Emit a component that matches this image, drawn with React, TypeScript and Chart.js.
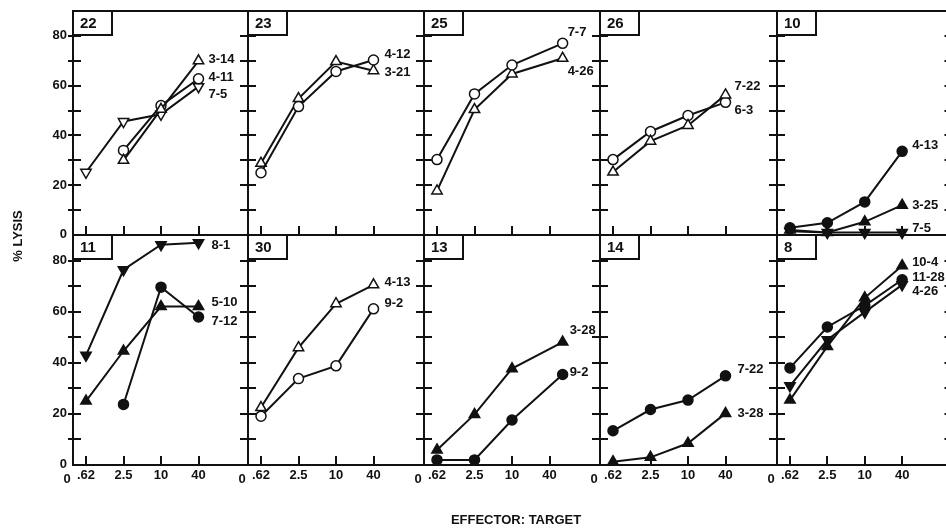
import React, { useEffect, useRef } from "react";
import { Chart, registerables } from "chart.js";

Chart.register(...registerables);

// ---------- data ----------
const ET_RATIOS = [0.625, 2.5, 10, 40];
const ET_RATIOS_LATE = [0.625, 2.5, 10, 65];
const ET_TICK_LABELS = [".62", "2.5", "10", "40"];
const Y_TICK_LABELS = [0, 20, 40, 60, 80];
const Y_MINOR_TICKS = [10, 20, 30, 40, 50, 60, 70, 80];
const PANEL_IDS = ["22", "23", "25", "26", "10", "11", "30", "13", "14", "8"];

// panel 22
const P22_3_14 = [null, 30, 50.5, 70];
const P22_4_11 = [null, 34, 52, 62.8];
const P22_7_5 = [25.2, 45.6, 48.5, 59.6];
// panel 23
const P23_4_12 = [25, 51.6, 65.7, 70.3];
const P23_3_21 = [28.8, 54.8, 69.7, 66];
// panel 25
const P25_7_7 = [30.3, 56.7, 68.3, 77];
const P25_4_26 = [17.7, 50.4, 64.7, 71];
// panel 26
const P26_7_22 = [25.3, 37.7, 44, 56.3];
const P26_6_3 = [30.3, 41.6, 48, 53.3];
// panel 10
const P10_4_13 = [2.9, 4.9, 13.3, 33.6];
const P10_3_25 = [2, 1, 5.3, 12];
const P10_7_5 = [1.5, 1, 1, 1];
// panel 11
const P11_8_1 = [42.9, 76.4, 86.2, 87];
const P11_5_10 = [25, 44.6, 62, 62];
const P11_7_12 = [null, 23.7, 69.6, 57.9];
// panel 30
const P30_4_13 = [22.5, 45.9, 63.1, 70.5];
const P30_9_2 = [19.1, 33.8, 38.8, 61.1];
// panel 13
const P13_3_28 = [5.9, 19.8, 37.7, 48.1];
const P13_9_2 = [2, 2, 17.6, 35.4];
// panel 14
const P14_7_22 = [13.4, 21.7, 25.4, 34.9];
const P14_3_28 = [1.3, 3, 8.5, 20.2];
// panel 8
const P8_10_4 = [25.4, 46.4, 65.4, 78];
const P8_11_28 = [38, 54, 62.4, 72.5];
const P8_4_26 = [31, 49, 59.8, 70.5];

type Marker = "openCircle" | "openUp" | "openDown" | "dot" | "filledUp" | "filledDown";
interface Series { name: string; values: (number | null)[]; marker: Marker; labelAt: number; }
interface Panel { id: string; xs: number[]; labelGap: number; series: Series[]; }

const PANELS: Panel[] = [
  { id: PANEL_IDS[0], xs: ET_RATIOS, labelGap: 10, series: [
    { name: "3-14", values: P22_3_14, marker: "openUp", labelAt: 70.4 },
    { name: "4-11", values: P22_4_11, marker: "openCircle", labelAt: 63.2 },
    { name: "7-5", values: P22_7_5, marker: "openDown", labelAt: 56.4 },
  ]},
  { id: PANEL_IDS[1], xs: ET_RATIOS, labelGap: 11, series: [
    { name: "4-12", values: P23_4_12, marker: "openCircle", labelAt: 72.4 },
    { name: "3-21", values: P23_3_21, marker: "openUp", labelAt: 65.2 },
  ]},
  { id: PANEL_IDS[2], xs: ET_RATIOS_LATE, labelGap: 5, series: [
    { name: "7-7", values: P25_7_7, marker: "openCircle", labelAt: 81.2 },
    { name: "4-26", values: P25_4_26, marker: "openUp", labelAt: 65.6 },
  ]},
  { id: PANEL_IDS[3], xs: ET_RATIOS, labelGap: 9, series: [
    { name: "7-22", values: P26_7_22, marker: "openUp", labelAt: 59.6 },
    { name: "6-3", values: P26_6_3, marker: "openCircle", labelAt: 50 },
  ]},
  { id: PANEL_IDS[4], xs: ET_RATIOS, labelGap: 10, series: [
    { name: "4-13", values: P10_4_13, marker: "dot", labelAt: 36 },
    { name: "3-25", values: P10_3_25, marker: "filledUp", labelAt: 12 },
    { name: "7-5", values: P10_7_5, marker: "filledDown", labelAt: 2.8 },
  ]},
  { id: PANEL_IDS[5], xs: ET_RATIOS, labelGap: 13, series: [
    { name: "8-1", values: P11_8_1, marker: "filledDown", labelAt: 85.9 },
    { name: "5-10", values: P11_5_10, marker: "filledUp", labelAt: 63.6 },
    { name: "7-12", values: P11_7_12, marker: "dot", labelAt: 56.2 },
  ]},
  { id: PANEL_IDS[6], xs: ET_RATIOS, labelGap: 11, series: [
    { name: "4-13", values: P30_4_13, marker: "openUp", labelAt: 71.4 },
    { name: "9-2", values: P30_9_2, marker: "openCircle", labelAt: 63.2 },
  ]},
  { id: PANEL_IDS[7], xs: ET_RATIOS_LATE, labelGap: 7, series: [
    { name: "3-28", values: P13_3_28, marker: "filledUp", labelAt: 52.7 },
    { name: "9-2", values: P13_9_2, marker: "dot", labelAt: 36.3 },
  ]},
  { id: PANEL_IDS[8], xs: ET_RATIOS, labelGap: 12, series: [
    { name: "7-22", values: P14_7_22, marker: "dot", labelAt: 37.5 },
    { name: "3-28", values: P14_3_28, marker: "filledUp", labelAt: 20.3 },
  ]},
  { id: PANEL_IDS[9], xs: ET_RATIOS, labelGap: 10, series: [
    { name: "10-4", values: P8_10_4, marker: "filledUp", labelAt: 79.2 },
    { name: "11-28", values: P8_11_28, marker: "dot", labelAt: 73.4 },
    { name: "4-26", values: P8_4_26, marker: "filledDown", labelAt: 67.9 },
  ]},
];

// ---------- layout ----------
const CANVAS_W = 960;
const CANVAS_H = 529;
const COL_X = [73, 248, 424, 600, 777, 953];
const ROW_Y = [11, 235, 465];
const PX_PER_STEP = 37.5; // pixels per factor-4 step of E:T ratio
const FIRST_OFFSET = 13;
const FONT = "'Liberation Sans', Arial, Helvetica, sans-serif";
const INK = "#111";

function markerStyle(m: Marker) {
  const filled = m === "dot" || m === "filledUp" || m === "filledDown";
  const tri = m !== "dot" && m !== "openCircle";
  const down = m === "openDown" || m === "filledDown";
  return {
    pointStyle: tri ? "triangle" : "circle",
    pointRotation: down ? 180 : 0,
    pointRadius: tri ? 6 : 5,
    pointBackgroundColor: filled ? INK : "#fff",
  };
}

const panelPlugin = {
  id: "panelDecor",
  afterDatasetsDraw(chart: any, _args: any, opts: any) {
    const ctx: CanvasRenderingContext2D = chart.ctx;
    const { left, right, top, bottom } = chart.chartArea;
    const xs = chart.scales.x;
    const ys = chart.scales.y;
    const col: number = opts.col;
    const row: number = opts.row;
    const panel: Panel = opts.panel;
    ctx.save();
    ctx.strokeStyle = INK;
    ctx.fillStyle = INK;
    ctx.lineWidth = 2;
    ctx.strokeRect(left, top, right - left, bottom - top);

    // y ticks on left border (crossing), and on right border for last column
    for (const v of Y_MINOR_TICKS) {
      const y = Math.round(ys.getPixelForValue(v));
      ctx.beginPath();
      ctx.moveTo(left - (col === 0 ? 5 : 8), y);
      ctx.lineTo(left + 8, y);
      if (col === 4) {
        ctx.moveTo(right - 8, y);
        ctx.lineTo(right + 8, y);
      }
      ctx.stroke();
    }
    // x ticks (inward from bottom)
    for (const r of ET_RATIOS) {
      const x = Math.round(xs.getPixelForValue(r));
      ctx.beginPath();
      ctx.moveTo(x, bottom);
      ctx.lineTo(x, bottom - 9);
      ctx.stroke();
    }

    // y tick labels
    if (col === 0) {
      ctx.font = `bold 13px ${FONT}`;
      ctx.textAlign = "right";
      ctx.textBaseline = "middle";
      for (const v of Y_TICK_LABELS) {
        const y = ys.getPixelForValue(v);
        ctx.fillText(String(v), left - 6, v === 0 ? y - 1 : y);
      }
    }
    // x tick labels
    if (row === 1) {
      ctx.font = `bold 13px ${FONT}`;
      ctx.textAlign = "center";
      ctx.textBaseline = "top";
      ET_RATIOS.forEach((r, i) => {
        ctx.fillText(ET_TICK_LABELS[i], xs.getPixelForValue(r), bottom + 4);
      });
      ctx.fillText("0", left - 6, bottom + 8);
    }

    // panel id box
    ctx.fillStyle = "#fff";
    ctx.fillRect(left, top, 39, 24);
    ctx.strokeRect(left, top, 39, 24);
    ctx.fillStyle = INK;
    ctx.font = `bold 15px ${FONT}`;
    ctx.textAlign = "left";
    ctx.textBaseline = "middle";
    ctx.fillText(panel.id, left + 7, top + 13);

    // series labels
    ctx.font = `bold 13px ${FONT}`;
    ctx.textAlign = "left";
    ctx.textBaseline = "middle";
    for (const s of panel.series) {
      const lastX = panel.xs[panel.xs.length - 1];
      const x = xs.getPixelForValue(lastX) + panel.labelGap;
      const y = ys.getPixelForValue(s.labelAt);
      ctx.fillText(s.name, x, y);
    }

    // axis titles (drawn once)
    if (opts.titles) {
      ctx.font = `bold 13px ${FONT}`;
      ctx.textAlign = "center";
      ctx.textBaseline = "middle";
      ctx.fillText("EFFECTOR: TARGET", 516, 520);
      ctx.save();
      ctx.translate(18, 236);
      ctx.rotate(-Math.PI / 2);
      ctx.fillText("% LYSIS", 0, 0);
      ctx.restore();
    }
    ctx.restore();
  },
};

function buildConfig(panel: Panel, index: number): any {
  const col = index % 5;
  const row = Math.floor(index / 5);
  const x0 = COL_X[col];
  const x1 = COL_X[col + 1];
  const y0 = ROW_Y[row];
  const y1 = ROW_Y[row + 1];
  const w = x1 - x0;
  const xMin = ET_RATIOS[0] / Math.pow(4, FIRST_OFFSET / PX_PER_STEP);
  const xMax = ET_RATIOS[3] * Math.pow(4, (w - FIRST_OFFSET - 3 * PX_PER_STEP) / PX_PER_STEP);

  const datasets = panel.series.map((s) => {
    const pts: { x: number; y: number }[] = [];
    s.values.forEach((v, i) => {
      if (v !== null) pts.push({ x: panel.xs[i], y: v });
    });
    return {
      label: s.name,
      data: pts,
      borderColor: INK,
      borderWidth: 2,
      pointBorderColor: INK,
      pointBorderWidth: 1.5,
      pointHoverRadius: markerStyle(s.marker).pointRadius,
      tension: 0,
      fill: false,
      clip: false,
      ...markerStyle(s.marker),
    };
  });

  return {
    type: "line",
    data: { datasets },
    options: {
      responsive: false,
      animation: false,
      devicePixelRatio: 1,
      events: [],
      layout: {
        padding: { left: x0, right: CANVAS_W - x1, top: y0, bottom: CANVAS_H - y1 },
      },
      scales: {
        x: { type: "logarithmic", display: false, min: xMin, max: xMax, bounds: "data" },
        y: { type: "linear", display: false, min: 0, max: 90 },
      },
      plugins: {
        legend: { display: false },
        tooltip: { enabled: false },
        panelDecor: { col, row, panel, titles: index === 0 },
      },
    },
    plugins: [panelPlugin],
  };
}

export default function App() {
  const refs = useRef<(HTMLCanvasElement | null)[]>([]);
  useEffect(() => {
    const charts = PANELS.map((p, i) => new Chart(refs.current[i] as HTMLCanvasElement, buildConfig(p, i)));
    return () => charts.forEach((c) => c.destroy());
  }, []);
  return (
    <div
      style={{
        position: "fixed",
        left: 0,
        top: 0,
        width: 946,
        height: 529,
        overflow: "hidden",
        background: "#fff",
      }}
    >
      {PANELS.map((p, i) => (
        <canvas
          key={p.id + i}
          ref={(el) => {
            refs.current[i] = el;
          }}
          width={CANVAS_W}
          height={CANVAS_H}
          style={{ position: "absolute", left: 0, top: 0, width: CANVAS_W, height: CANVAS_H }}
        />
      ))}
    </div>
  );
}
